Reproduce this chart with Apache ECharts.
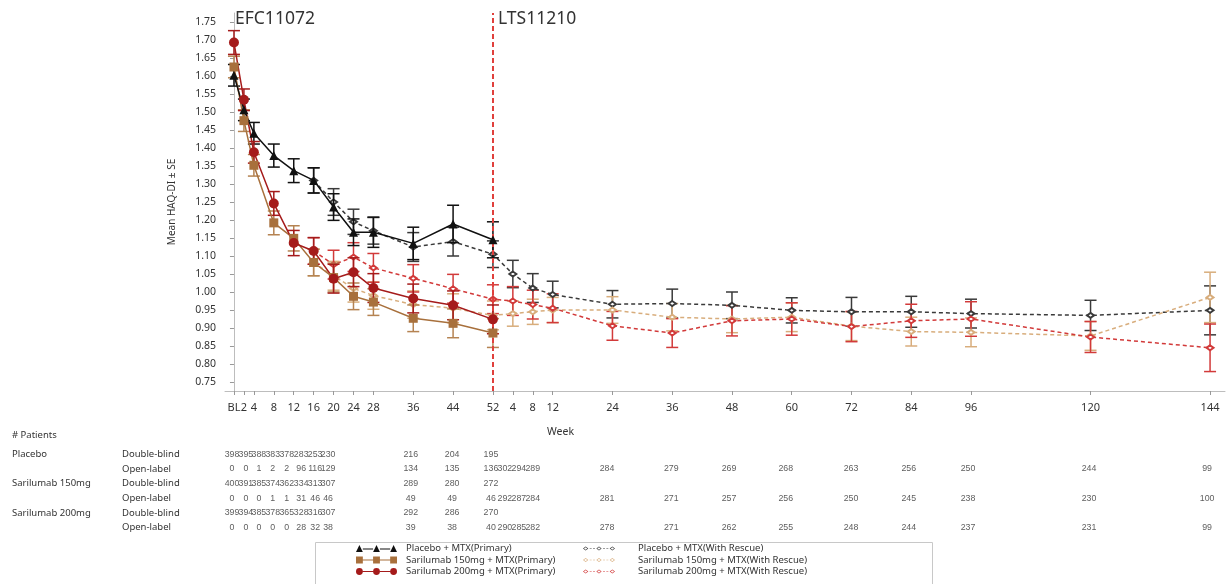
<!DOCTYPE html>
<html><head><meta charset="utf-8">
<script src="https://cdn.jsdelivr.net/npm/echarts@6/dist/echarts.min.js"></script>
<style>html,body{margin:0;padding:0;background:#fff}#c{width:1232px;height:584px}</style>
</head><body><div id="c"></div>
<script>
// ---------------- DATA ----------------
const efcWeeks = [0, 2, 4, 8, 12, 16, 20, 24, 28, 36, 44, 52];
const efcLabels = ['BL', '2', '4', '8', '12', '16', '20', '24', '28', '36', '44', '52'];
const ltsWeeks = [4, 8, 12, 24, 36, 48, 60, 72, 84, 96, 120, 144];
const ltsOffset = 52; // LTS week 0 == EFC week 52
const rescueEfcWeeks = [16, 20, 24, 28, 36, 44, 52];

// Primary (EFC11072), at efcWeeks
const placeboPrimary   = [1.602, 1.506, 1.441, 1.379, 1.337, 1.310, 1.236, 1.166, 1.166, 1.135, 1.189, 1.145];
const placeboPrimarySE = [0.030, 0.030, 0.030, 0.032, 0.033, 0.035, 0.037, 0.037, 0.042, 0.045, 0.052, 0.050];
const sari150Primary   = [1.625, 1.476, 1.352, 1.192, 1.149, 1.082, 1.040, 0.988, 0.972, 0.927, 0.913, 0.886];
const sari150PrimarySE = [0.030, 0.030, 0.030, 0.033, 0.035, 0.037, 0.040, 0.037, 0.037, 0.037, 0.040, 0.040];
const sari200Primary   = [1.693, 1.534, 1.388, 1.246, 1.136, 1.114, 1.037, 1.055, 1.011, 0.982, 0.963, 0.924];
const sari200PrimarySE = [0.033, 0.030, 0.030, 0.033, 0.035, 0.037, 0.040, 0.040, 0.040, 0.040, 0.040, 0.040];

// With rescue, at rescueEfcWeeks then ltsWeeks
const placeboRescue   = [1.310, 1.250, 1.195, 1.170, 1.125, 1.140, 1.105, 1.050, 1.011, 0.993, 0.966, 0.968, 0.963, 0.949, 0.945, 0.945, 0.940, 0.935, 0.949];
const placeboRescueSE = [0.035, 0.037, 0.035, 0.037, 0.040, 0.040, 0.037, 0.038, 0.040, 0.037, 0.038, 0.040, 0.037, 0.035, 0.040, 0.043, 0.040, 0.042, 0.068];
const sari150Rescue   = [1.082, 1.045, 1.010, 0.990, 0.965, 0.955, 0.935, 0.940, 0.945, 0.950, 0.950, 0.930, 0.925, 0.930, 0.905, 0.890, 0.888, 0.878, 0.985];
const sari150RescueSE = [0.037, 0.040, 0.038, 0.038, 0.038, 0.040, 0.040, 0.035, 0.035, 0.035, 0.037, 0.038, 0.038, 0.040, 0.040, 0.040, 0.040, 0.040, 0.070];
const sari200Rescue   = [1.114, 1.076, 1.097, 1.067, 1.038, 1.009, 0.980, 0.975, 0.965, 0.955, 0.906, 0.886, 0.920, 0.925, 0.904, 0.920, 0.925, 0.875, 0.845];
const sari200RescueSE = [0.037, 0.040, 0.040, 0.040, 0.038, 0.040, 0.040, 0.040, 0.040, 0.040, 0.040, 0.040, 0.042, 0.045, 0.042, 0.046, 0.048, 0.043, 0.066];

const yTicks = [0.75, 0.80, 0.85, 0.90, 0.95, 1.00, 1.05, 1.10, 1.15, 1.20, 1.25, 1.30, 1.35, 1.40, 1.45, 1.50, 1.55, 1.60, 1.65, 1.70, 1.75];

// Patients table
const rowGroups = ['Placebo', '', 'Sarilumab 150mg', '', 'Sarilumab 200mg', ''];
const rowTypes = ['Double-blind', 'Open-label', 'Double-blind', 'Open-label', 'Double-blind', 'Open-label'];
const placeboDB = [398, 395, 388, 383, 378, 283, 253, 230, 216, 204, 195];
const placeboOL = [0, 0, 1, 2, 2, 96, 116, 129, 134, 135, 136, 302, 294, 289, 284, 279, 269, 268, 263, 256, 250, 244, 99];
const sari150DB = [400, 391, 385, 374, 362, 334, 313, 307, 289, 280, 272];
const sari150OL = [0, 0, 0, 1, 1, 31, 46, 46, 49, 49, 46, 292, 287, 284, 281, 271, 257, 256, 250, 245, 238, 230, 100];
const sari200DB = [399, 394, 385, 378, 365, 328, 316, 307, 292, 286, 270];
const sari200OL = [0, 0, 0, 0, 0, 28, 32, 38, 39, 38, 40, 290, 285, 282, 278, 271, 262, 255, 248, 244, 237, 231, 99];

// ---------------- LAYOUT (not data) ----------------
// table column anchor positions, in axis (week) units
const tableColWeeks = [-0.4, 2.4, 5.0, 7.8, 10.6, 13.5, 16.3, 18.9, 35.5, 43.8, 51.6, 54.4, 57.2, 60.0, 74.9, 87.8, 99.4, 110.8, 123.9, 135.5, 147.4, 171.7, 195.4];

const FONT = 'Noto Sans';
const TXT = '#333';

const xTickVals = efcWeeks.concat(ltsWeeks.map(w => w + ltsOffset));
const xTickLabels = efcLabels.concat(ltsWeeks.map(String));
const rescueX = rescueEfcWeeks.concat(ltsWeeks.map(w => w + ltsOffset));

const C = {
  pP: '#111111', p150: '#a8703c', p200: '#a51b1b',
  rP: '#3a3a3a', r150: '#d8ad7c', r200: '#d23a3a'
};

function pts(xs, ys) { return xs.map((x, i) => [x, ys[i]]); }
function errs(xs, ys, se) { return xs.map((x, i) => [x, ys[i] - se[i], ys[i] + se[i]]); }

function errRender(color) {
  return function (params, api) {
    const x = api.value(0), lo = api.value(1), hi = api.value(2);
    const a = api.coord([x, lo]), b = api.coord([x, hi]);
    const w = 6, st = { stroke: color, lineWidth: 1.5 };
    return { type: 'group', children: [
      { type: 'line', shape: { x1: a[0], y1: a[1], x2: b[0], y2: b[1] }, style: st },
      { type: 'line', shape: { x1: a[0] - w, y1: a[1], x2: a[0] + w, y2: a[1] }, style: st },
      { type: 'line', shape: { x1: b[0] - w, y1: b[1], x2: b[0] + w, y2: b[1] }, style: st }
    ]};
  };
}
function errSeries(name, data, color, z) {
  return { name: name, type: 'custom', xAxisIndex: 0, yAxisIndex: 0, z: z,
    renderItem: errRender(color), encode: { x: 0, y: [1, 2] }, data: data, silent: true };
}
function lineSeries(name, data, color, symbol, size, dashed, z) {
  return { name: name, type: 'line', xAxisIndex: 0, yAxisIndex: 0, data: data, z: z,
    symbol: symbol, symbolSize: size, showAllSymbol: true,
    itemStyle: { color: color, borderColor: color, borderWidth: dashed ? 1 : 0 },
    lineStyle: { color: color, width: 1.5, type: dashed ? [4, 3] : 'solid' },
    emphasis: { disabled: true } };
}

// table rows
const tableRows = [placeboDB, placeboOL, sari150DB, sari150OL, sari200DB, sari200OL];
const tableData = [];
tableRows.forEach((row, r) => row.forEach((v, c) => tableData.push([tableColWeeks[c], r, v])));

// legend icons
const triIcon = 'path://M0,9.5L4.5,0.5L9,9.5Z M22.5,9.5L27,0.5L31.5,9.5Z M45,9.5L49.5,0.5L54,9.5Z M9,5L22.5,5L22.5,6.2L9,6.2Z M31.5,5L45,5L45,6.2L31.5,6.2Z';
const sqIcon = 'path://M0,1L9,1L9,10L0,10Z M22.5,1L31.5,1L31.5,10L22.5,10Z M45,1L54,1L54,10L45,10Z M9,5L22.5,5L22.5,6.2L9,6.2Z M31.5,5L45,5L45,6.2L31.5,6.2Z';
const circIcon = 'path://M0,5.5A4.5,4.5 0 1,1 9,5.5A4.5,4.5 0 1,1 0,5.5Z M22.5,5.5A4.5,4.5 0 1,1 31.5,5.5A4.5,4.5 0 1,1 22.5,5.5Z M45,5.5A4.5,4.5 0 1,1 54,5.5A4.5,4.5 0 1,1 45,5.5Z M9,5L22.5,5L22.5,6.2L9,6.2Z M31.5,5L45,5L45,6.2L31.5,6.2Z';
function dIcon() {
  let p = 'path://';
  [0, 20, 40].forEach(o => {
    p += 'M' + o + ',3L' + (o + 4) + ',0L' + (o + 8) + ',3L' + (o + 4) + ',6Z ';
    p += 'M' + (o + 1.5) + ',3L' + (o + 4) + ',4.7L' + (o + 6.5) + ',3L' + (o + 4) + ',1.3Z ';
  });
  [10, 15, 30, 35].forEach(o => { p += 'M' + o + ',2.5L' + (o + 3) + ',2.5L' + (o + 3) + ',3.5L' + o + ',3.5Z '; });
  return p;
}
const dashIcon = dIcon();

const N = {
  pP: 'Placebo + MTX(Primary)', p150: 'Sarilumab 150mg + MTX(Primary)', p200: 'Sarilumab 200mg + MTX(Primary)',
  rP: 'Placebo + MTX(With Rescue)', r150: 'Sarilumab 150mg + MTX(With Rescue)', r200: 'Sarilumab 200mg + MTX(With Rescue)'
};

const legendText = { fontSize: 9.5, color: TXT, fontFamily: FONT, lineHeight: 11 };

const chart = echarts.init(document.getElementById('c'), null, { renderer: 'canvas' });
chart.setOption({
  animation: false,
  backgroundColor: '#fff',
  textStyle: { fontFamily: FONT },
  title: [
    { text: 'EFC11072', left: 235, top: 10, padding: 0, textStyle: { fontFamily: FONT, fontSize: 17.5, fontWeight: 'normal', color: TXT } },
    { text: 'LTS11210', left: 498, top: 10, padding: 0, textStyle: { fontFamily: FONT, fontSize: 17.5, fontWeight: 'normal', color: TXT } }
  ],
  grid: [
    { left: 225, top: 13, width: 1000, height: 378 },
    { left: 225, top: 447, width: 1000, height: 88 }
  ],
  xAxis: [
    { type: 'value', gridIndex: 0, min: -1.8, max: 199,
      axisLine: { lineStyle: { color: '#bdbdbd', width: 1 } },
      axisTick: { customValues: xTickVals, length: 4, lineStyle: { color: '#999' } },
      axisLabel: { customValues: xTickVals, margin: 11, fontSize: 11, color: TXT, fontFamily: FONT,
        formatter: v => { const i = xTickVals.indexOf(v); return i >= 0 ? xTickLabels[i] : ''; } },
      splitLine: { show: false } },
    { type: 'value', gridIndex: 1, min: -1.8, max: 199, show: false }
  ],
  yAxis: [
    { type: 'value', gridIndex: 0, min: 0.725, max: 1.775,
      name: 'Mean HAQ-DI \u00B1 SE', nameLocation: 'middle', nameGap: 48,
      nameTextStyle: { fontSize: 10, color: TXT, fontFamily: FONT },
      axisLine: { show: true, lineStyle: { color: '#bdbdbd', width: 1 } },
      axisTick: { show: true, customValues: yTicks, length: 4, lineStyle: { color: '#999' } },
      axisLabel: { customValues: yTicks, margin: 9, fontSize: 10.5, color: TXT, fontFamily: FONT,
        formatter: v => v.toFixed(2) },
      splitLine: { show: false } },
    { type: 'category', gridIndex: 1, inverse: true, data: rowTypes,
      axisLine: { show: false }, axisTick: { show: false },
      axisLabel: { margin: 213, align: 'left', fontSize: 9.5, color: TXT, fontFamily: FONT,
        formatter: (v, i) => '{g|' + (rowGroups[i] || ' ') + '}{s|' + v + '}',
        rich: { g: { width: 110, fontSize: 9.5, color: TXT, fontFamily: FONT }, s: { fontSize: 9.5, color: TXT, fontFamily: FONT } } } }
  ],
  legend: [
    { orient: 'vertical', left: 356, top: 543, height: 60, padding: 0, itemWidth: 41, itemHeight: 8, itemGap: 0.5,
      itemStyle: { borderWidth: 0 }, selectedMode: false,
      textStyle: Object.assign({ padding: [0, 0, 0, 4] }, legendText),
      data: [ { name: N.pP, icon: triIcon }, { name: N.p150, icon: sqIcon }, { name: N.p200, icon: circIcon } ] },
    { orient: 'vertical', left: 583, top: 543, height: 60, padding: 0, itemWidth: 32, itemHeight: 5, itemGap: 0.5,
      itemStyle: { borderWidth: 0 }, selectedMode: false,
      textStyle: Object.assign({ padding: [0, 0, 0, 18] }, legendText),
      data: [ { name: N.rP, icon: dashIcon }, { name: N.r150, icon: dashIcon }, { name: N.r200, icon: dashIcon } ] }
  ],
  graphic: [
    { type: 'text', left: 12, top: 430, style: { text: '# Patients', fontSize: 9.5, fill: TXT, fontFamily: FONT } },
    { type: 'text', left: 547, top: 427, style: { text: 'Week', fontSize: 10.5, fill: TXT, fontFamily: FONT } },
    { type: 'rect', left: 313, top: 540, shape: { width: 617, height: 60 }, style: { fill: 'none', stroke: '#c8c8c8', lineWidth: 1 } }
  ],
  series: [
    // error bars
    errSeries('e_rP', errs(rescueX, placeboRescue, placeboRescueSE), C.rP, 2),
    errSeries('e_r150', errs(rescueX, sari150Rescue, sari150RescueSE), C.r150, 2),
    errSeries('e_r200', errs(rescueX, sari200Rescue, sari200RescueSE), C.r200, 2),
    errSeries('e_pP', errs(efcWeeks, placeboPrimary, placeboPrimarySE), C.pP, 4),
    errSeries('e_p150', errs(efcWeeks, sari150Primary, sari150PrimarySE), '#b58352', 4),
    errSeries('e_p200', errs(efcWeeks, sari200Primary, sari200PrimarySE), C.p200, 4),
    // lines
    lineSeries(N.rP, pts(rescueX, placeboRescue), C.rP, 'emptyDiamond', [7, 5], true, 3),
    lineSeries(N.r150, pts(rescueX, sari150Rescue), C.r150, 'emptyDiamond', [7, 5], true, 3),
    lineSeries(N.r200, pts(rescueX, sari200Rescue), C.r200, 'emptyDiamond', [7, 5], true, 3),
    lineSeries(N.p150, pts(efcWeeks, sari150Primary), C.p150, 'rect', 9, false, 5),
    lineSeries(N.p200, pts(efcWeeks, sari200Primary), C.p200, 'circle', 10, false, 5),
    lineSeries(N.pP, pts(efcWeeks, placeboPrimary), C.pP, 'triangle', 9, false, 5),
    // reference line at end of EFC
    { name: 'ref', type: 'line', data: [], xAxisIndex: 0, yAxisIndex: 0,
      markLine: { silent: true, symbol: 'none', label: { show: false },
        lineStyle: { color: '#e0403c', type: [5, 3], width: 2 },
        data: [{ xAxis: ltsOffset }] } },
    // patients table
    { name: 'table', type: 'scatter', xAxisIndex: 1, yAxisIndex: 1, data: tableData,
      symbolSize: 0.1, itemStyle: { color: 'rgba(0,0,0,0)' }, silent: true,
      label: { show: true, position: 'inside', fontSize: 8.8, color: TXT, fontFamily: 'Liberation Sans',
        formatter: p => String(p.value[2]) } }
  ]
});
</script></body></html>
